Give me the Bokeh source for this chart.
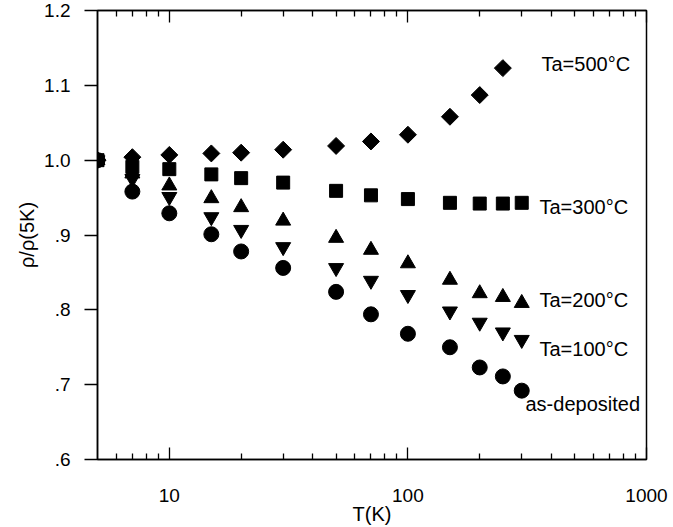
from bokeh.plotting import figure
from bokeh.models import FixedTicker, LogAxis, Range1d, ColumnDataSource
from bokeh.core.properties import value
from bokeh.embed import file_html
from bokeh.resources import INLINE
import math

# ---- data ----
T = [5, 7, 10, 15, 20, 30, 50, 70, 100, 150, 200, 250, 300]
T500 = [5, 7, 10, 15, 20, 30, 50, 70, 100, 150, 200, 250]
rho_500 = [1.000, 1.004, 1.007, 1.009, 1.010, 1.014, 1.019, 1.025, 1.034, 1.058, 1.087, 1.123]
rho_300 = [1.000, 0.991, 0.988, 0.981, 0.976, 0.970, 0.959, 0.953, 0.948, 0.943, 0.942, 0.942, 0.943]
rho_200 = [1.000, 0.982, 0.966, 0.949, 0.937, 0.919, 0.896, 0.880, 0.862, 0.840, 0.822, 0.817, 0.809]
rho_100 = [1.000, 0.975, 0.951, 0.924, 0.907, 0.884, 0.856, 0.839, 0.820, 0.798, 0.783, 0.770, 0.760]
rho_asdep = [1.000, 0.958, 0.929, 0.901, 0.878, 0.856, 0.824, 0.794, 0.768, 0.750, 0.723, 0.711, 0.692]

labels = ["Ta=500°C", "Ta=300°C", "Ta=200°C", "Ta=100°C", "as-deposited"]
label_T = [363, 356, 356, 356, 311]
label_rho = [1.128, 0.937, 0.813, 0.748, 0.674]

xtick_values = [10, 100, 1000]
xtick_labels = ["10", "100", "1000"]
xminor_values = [6, 7, 8, 9, 20, 30, 40, 50, 60, 70, 80, 90,
                 200, 300, 400, 500, 600, 700, 800, 900]
ytick_values = [0.6, 0.7, 0.8, 0.9, 1.0, 1.1, 1.2]
ytick_labels = [".6", ".7", ".8", ".9", "1.0", "1.1", "1.2"]

FONT = "Liberation Sans"

p = figure(width=673, height=527, x_axis_type="log",
           x_range=Range1d(5, 1000), y_range=Range1d(0.6, 1.2),
           output_backend="svg", toolbar_location=None,
           min_border_left=97, min_border_right=27,
           min_border_top=10, min_border_bottom=20)
p.grid.visible = False
p.outline_line_color = "black"
p.outline_line_width = 1.5
p.background_fill_color = "white"
p.border_fill_color = "white"

xticker = FixedTicker(ticks=xtick_values, minor_ticks=xminor_values)
xa = p.xaxis[0]
xa.ticker = xticker
xa.major_label_overrides = dict(zip(xtick_values, xtick_labels))
xa.major_tick_in = 12
xa.major_tick_out = 0
xa.minor_tick_in = 6
xa.minor_tick_out = 0
xa.axis_line_width = 1.5
xa.major_tick_line_width = 1.3
xa.minor_tick_line_width = 1.3
xa.major_label_text_font = FONT
xa.major_label_text_font_size = "19px"
xa.major_label_text_color = "black"
xa.major_label_standoff = 29
xa.axis_label = "T(K)"
xa.axis_label_text_font = FONT
xa.axis_label_text_font_size = "20px"
xa.axis_label_text_font_style = "normal"
xa.axis_label_text_color = "black"
xa.axis_label_standoff = -2

top = LogAxis(ticker=xticker, major_label_text_font_size="0px",
              major_tick_in=12, major_tick_out=0, minor_tick_in=6, minor_tick_out=0,
              axis_line_width=1.5, major_tick_line_width=1.3, minor_tick_line_width=1.3,
              major_label_standoff=0)
top.major_label_overrides = {v: "" for v in xtick_values}
p.add_layout(top, "above")

ya = p.yaxis[0]
ya.ticker = FixedTicker(ticks=ytick_values, minor_ticks=[])
ya.major_label_overrides = dict(zip(ytick_values, ytick_labels))
ya.major_tick_in = 0
ya.major_tick_out = 13
ya.axis_line_width = 1.5
ya.major_tick_line_width = 1.3
ya.major_label_text_font = FONT
ya.major_label_text_font_size = "19px"
ya.major_label_text_color = "black"
ya.major_label_standoff = 14
ya.axis_label = "ρ/ρ(5K)"
ya.axis_label_text_font = FONT
ya.axis_label_text_font_size = "20px"
ya.axis_label_text_font_style = "normal"
ya.axis_label_text_color = "black"
ya.axis_label_standoff = 3

p.scatter(T500, rho_500, marker="square", size=12, angle=math.pi / 4,
          color="black")
p.scatter(T, rho_300, marker="square", size=13, color="black")
p.scatter(T, rho_200, marker="triangle", size=15, color="black")
p.scatter(T, rho_100, marker="inverted_triangle", size=15, color="black")
p.scatter(T, rho_asdep, marker="circle", size=15, color="black")

src = ColumnDataSource(dict(x=label_T, y=label_rho, t=labels))
p.text(x="x", y="y", text="t", source=src, text_font=value(FONT),
       text_font_size="20px", text_baseline="middle", text_align="left",
       text_color="black")

open("out.html", "w").write(file_html(p, INLINE))
